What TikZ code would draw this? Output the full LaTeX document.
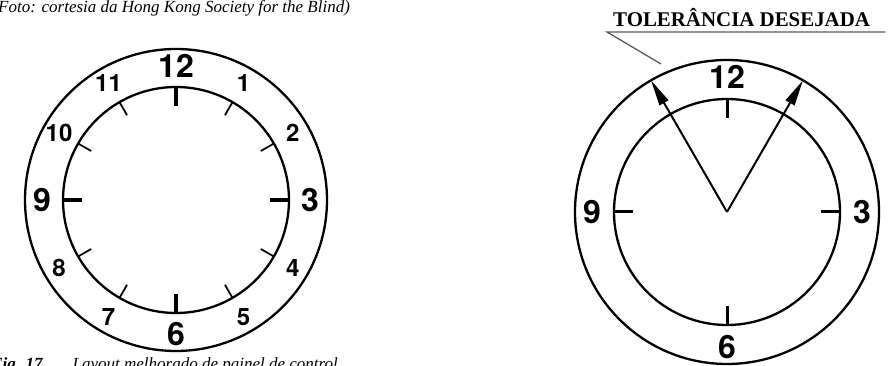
\documentclass[tikz,border=0pt]{standalone}
\usepackage{fontspec}
\setmainfont{Liberation Serif}
\newfontfamily\numfont{TeX Gyre Heros}
\usetikzlibrary{arrows.meta,calc}
\begin{document}
\begin{tikzpicture}[x=1pt,y=1pt,
  ring/.style={circle, draw, line width=2.3pt, inner sep=0pt, outer sep=0pt},
  bignum/.style={font=\numfont\bfseries\fontsize{32}{32}\selectfont, inner sep=0pt},
  smallnum/.style={font=\numfont\bfseries\fontsize{24}{24}\selectfont, inner sep=0pt},
  majortick/.style={line width=3.6pt},
  minortick/.style={line width=1.8pt},
  righttick/.style={line width=3pt},
  hand/.style={line width=2pt, -{Triangle[length=26pt,width=10pt]}},
  callout/.style={line width=1.3pt, draw=black!65},
  caption/.style={font=\itshape\fontsize{17}{18}\selectfont, inner sep=0pt, anchor=base west},
  ]
\clip (0,0) rectangle (895,366);
% ---------- left clock ----------
\coordinate (lc) at (176,166);
\node[ring, minimum size=302pt] (lo) at (lc) {};
\node[ring, minimum size=226pt] (li) at (lc) {};
\foreach \h [evaluate=\h as \a using {int(90-30*\h)}] in {0,3,6,9}
  \draw[majortick] (li.\a) -- ($(lc)+(\a:94)$);
\foreach \h [evaluate=\h as \a using {int(90-30*\h)}] in {1,2,4,5,7,8,10,11}
  \draw[minortick] (li.\a) -- ($(lc)+(\a:98)$);
\foreach \h [evaluate=\h as \a using {int(90-30*\h)}] in {3,6,9}
  \node[bignum] (l\h) at ($(lc)+(\a:134)$) {\h};
\node[bignum] (l12) at ($(lc)+(90:134)$) {12};
\foreach \h [evaluate=\h as \a using {int(90-30*\h)}] in {1,2,4,5,7,8,10,11}
  \node[smallnum] (l\h) at ($(lc)+(\a:135)$) {\h};
% ---------- right clock ----------
\coordinate (rc) at (727,154);
\node[ring, minimum size=304pt] (ro) at (rc) {};
\node[ring, minimum size=226pt] (ri) at (rc) {};
\foreach \h [evaluate=\h as \a using {int(90-30*\h)}] in {0,3,6,9}
  \draw[righttick] (ri.\a) -- ($(rc)+(\a:94)$);
\foreach \h [evaluate=\h as \a using {int(90-30*\h)}] in {3,6,9}
  \node[bignum] (r\h) at ($(rc)+(\a:135)$) {\h};
\node[bignum] (r12) at ($(rc)+(90:135)$) {12};
\draw[hand] (rc) -- (ro.120);
\draw[hand] (rc) -- (ro.60);
% ---------- label ----------
\node[font=\bfseries\fontsize{20.9}{21}\selectfont, inner sep=0pt, anchor=base west] (tol) at (613,339) {TOLERÂNCIA DESEJADA};
\coordinate (ur) at (885,334);
\coordinate (ul) at (607,334);
\coordinate (lp) at (661,302);
\draw[callout] (ur) -- (ul) -- (lp);
% ---------- captions ----------
\node[caption] (cap1) at (-2,353) {Foto: cortesia da Hong Kong Society for the Blind)};
\node[caption] (cap2) at (-9,-4) {\textbf{Fig. 17}\hspace{30pt}Layout melhorado de painel de control};
\end{tikzpicture}
\end{document}
